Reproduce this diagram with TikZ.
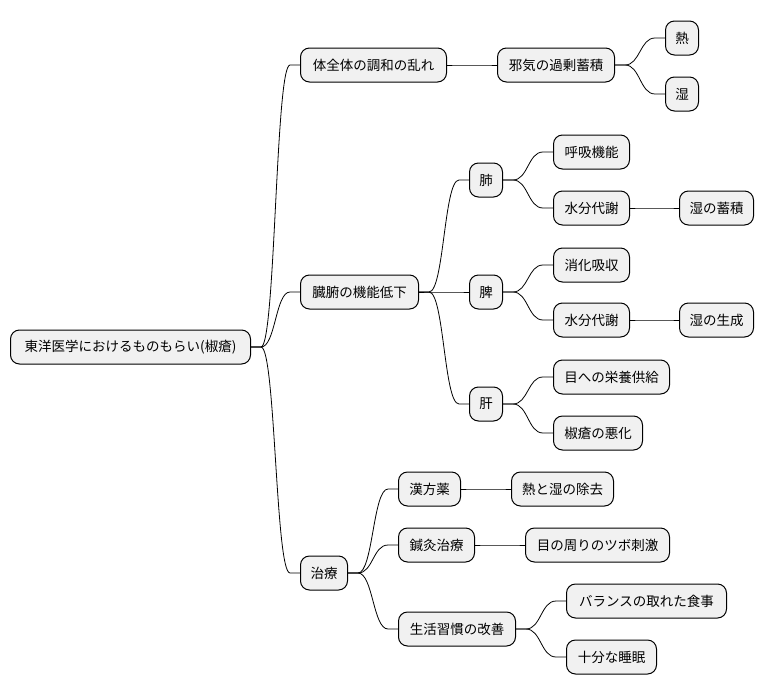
\documentclass[tikz,border=0pt]{standalone}
\usepackage{fontspec}
\setmainfont{Noto Sans CJK JP}
\usetikzlibrary{calc}
\definecolor{boxfill}{HTML}{F1F1F1}
\tikzset{
  mmbox/.style={draw=black, line width=1pt, fill=boxfill, rounded corners=9pt,
    minimum height=34pt, inner xsep=0pt, inner ysep=0pt, anchor=west,
    font=\fontsize{13.5}{16}\selectfont, align=center},
  mmline/.style={draw=black, line width=0.8pt}
}
\newcommand\mmconn[2]{%
  \draw[mmline] let \p1=(#1.east), \p2=(#2.west) in
    (\p1) -- (\x1+10pt,\y1)
    .. controls ({(\x1+\x2)/2},\y1) and ({(\x1+\x2)/2},\y2) ..
    (\x2-10pt,\y2) -- (\p2);}
\begin{document}
\begin{tikzpicture}[x=1pt,y=-1pt]
\useasboundingbox[fill=white] (0,0) rectangle (765,696);
\node[mmbox, minimum width=240] (root) at (10,347) {東洋医学におけるものもらい(椒瘡)};
\node[mmbox, minimum width=146] (a1) at (300,65) {体全体の調和の乱れ};
\node[mmbox, minimum width=117] (a2) at (497,65) {邪気の過剰蓄積};
\node[mmbox, minimum width=33] (a3) at (665,38) {熱};
\node[mmbox, minimum width=33] (a4) at (665,94) {湿};
\node[mmbox, minimum width=118] (b) at (300,292) {臓腑の機能低下};
\node[mmbox, minimum width=33] (b1) at (469,180) {肺};
\node[mmbox, minimum width=76] (b11) at (553,152) {呼吸機能};
\node[mmbox, minimum width=76] (b12) at (553,208) {水分代謝};
\node[mmbox, minimum width=74] (b121) at (679,208) {湿の蓄積};
\node[mmbox, minimum width=33] (b2) at (469,292) {脾};
\node[mmbox, minimum width=76] (b21) at (553,265) {消化吸収};
\node[mmbox, minimum width=76] (b22) at (553,320) {水分代謝};
\node[mmbox, minimum width=74] (b221) at (679,320) {湿の生成};
\node[mmbox, minimum width=33] (b3) at (469,404) {肝};
\node[mmbox, minimum width=116] (b31) at (553,377) {目への栄養供給};
\node[mmbox, minimum width=89] (b32) at (553,433) {椒瘡の悪化};
\node[mmbox, minimum width=47] (c) at (300,573) {治療};
\node[mmbox, minimum width=62] (c1) at (398,489) {漢方薬};
\node[mmbox, minimum width=102] (c11) at (511,489) {熱と湿の除去};
\node[mmbox, minimum width=76] (c2) at (398,545) {鍼灸治療};
\node[mmbox, minimum width=144] (c21) at (525,545) {目の周りのツボ刺激};
\node[mmbox, minimum width=117] (c3) at (398,629) {生活習慣の改善};
\node[mmbox, minimum width=160] (c31) at (566,601) {バランスの取れた食事};
\node[mmbox, minimum width=90] (c32) at (566,657) {十分な睡眠};
\mmconn{root}{a1}
\mmconn{root}{b}
\mmconn{root}{c}
\mmconn{a1}{a2}
\mmconn{a2}{a3}
\mmconn{a2}{a4}
\mmconn{b}{b1}
\mmconn{b}{b2}
\mmconn{b}{b3}
\mmconn{b1}{b11}
\mmconn{b1}{b12}
\mmconn{b12}{b121}
\mmconn{b2}{b21}
\mmconn{b2}{b22}
\mmconn{b22}{b221}
\mmconn{b3}{b31}
\mmconn{b3}{b32}
\mmconn{c}{c1}
\mmconn{c}{c2}
\mmconn{c}{c3}
\mmconn{c1}{c11}
\mmconn{c2}{c21}
\mmconn{c3}{c31}
\mmconn{c3}{c32}
\end{tikzpicture}
\end{document}
